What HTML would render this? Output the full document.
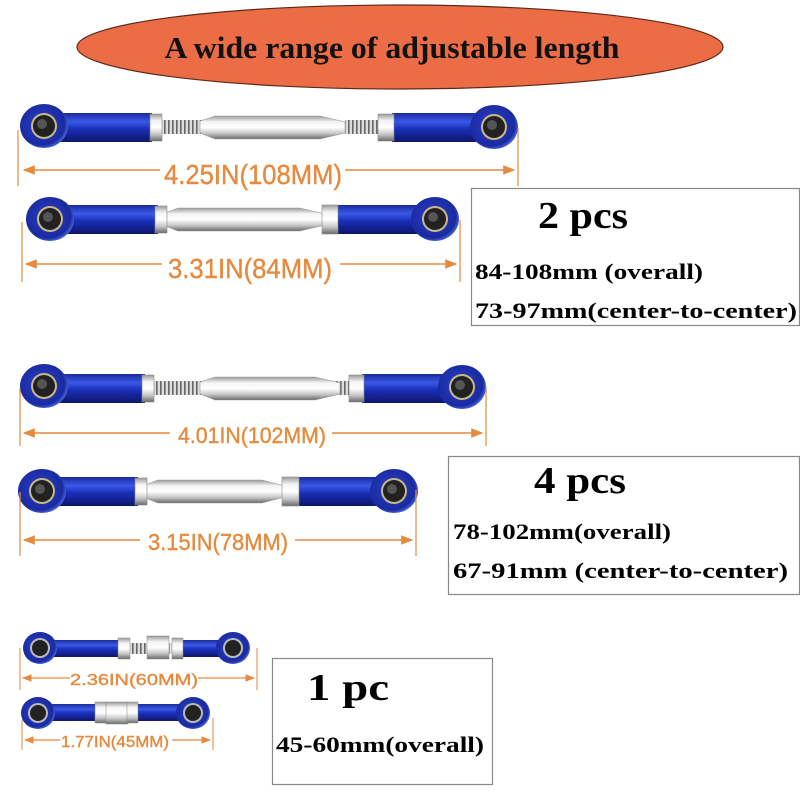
<!DOCTYPE html>
<html><head><meta charset="utf-8"><style>
html,body{margin:0;padding:0;background:#fff;width:800px;height:800px;overflow:hidden}
svg{display:block}
.dim{font-family:"Liberation Sans",sans-serif;fill:#E58A3E;stroke:#E58A3E;stroke-width:0.4}
.bx{font-family:"Liberation Serif",serif;font-weight:bold;fill:#000}
</style></head><body>
<svg width="800" height="800" viewBox="0 0 800 800" xmlns="http://www.w3.org/2000/svg">
<defs>
<linearGradient id="blue" x1="0" y1="0" x2="0" y2="1">
<stop offset="0" stop-color="#1a2a9a"/><stop offset="0.3" stop-color="#3a58e8"/><stop offset="0.55" stop-color="#1a2fb8"/><stop offset="1" stop-color="#0c166a"/></linearGradient>
<radialGradient id="eye" cx="0.45" cy="0.45" r="0.6"><stop offset="0" stop-color="#2a40c8"/><stop offset="0.8" stop-color="#1a2aa0"/><stop offset="1" stop-color="#5a80f0"/></radialGradient>
<linearGradient id="silver" x1="0" y1="0" x2="0" y2="1">
<stop offset="0" stop-color="#9a9a9a"/><stop offset="0.25" stop-color="#f4f4f4"/><stop offset="0.5" stop-color="#ffffff"/><stop offset="0.75" stop-color="#c8c8c8"/><stop offset="1" stop-color="#6a6a6a"/></linearGradient>
<pattern id="thr" width="4" height="10" patternUnits="userSpaceOnUse"><rect width="4" height="10" fill="#ddd"/><rect width="1.6" height="10" fill="#666"/></pattern>
<marker id="ar" viewBox="0 0 10 10" refX="9" refY="5" markerWidth="8" markerHeight="8" orient="auto-start-reverse"><path d="M0,1 L10,5 L0,9 z" fill="#E58A3E"/></marker>
<g id="eyeL"><ellipse cx="0" cy="0" rx="24" ry="22" fill="url(#eye)"/><circle r="13" fill="#c9b98a"/><circle r="11" fill="#222"/><circle r="5" cx="-2" cy="-2" fill="#555"/></g>
<g id="eyeS"><ellipse cx="0" cy="0" rx="17" ry="16" fill="url(#eye)"/><circle r="10" fill="#bbb"/><circle r="8" fill="#222"/></g>
</defs>

<ellipse cx="400" cy="47" rx="323" ry="42" fill="#EC6C45" stroke="#5a2a1a" stroke-width="1.2"/>
<text x="392" y="58" text-anchor="middle" font-family="Liberation Serif,serif" font-weight="bold" font-size="31" textLength="455" lengthAdjust="spacingAndGlyphs" fill="#111">A wide range of adjustable length</text>

<!-- rod 1 -->
<g>
<rect x="52" y="113" width="100" height="29" fill="url(#blue)"/>
<rect x="392" y="113" width="84" height="29" fill="url(#blue)"/>
<rect x="160" y="120" width="48" height="14" fill="url(#thr)"/>
<rect x="345" y="120" width="36" height="14" fill="url(#thr)"/>
<polygon points="200,121 215,116 320,116 345,122 345,133 320,139 215,139 200,133" fill="url(#silver)" stroke="#999" stroke-width="0.6"/>
<rect x="150" y="114" width="12" height="27" fill="url(#silver)" stroke="#888" stroke-width="0.6"/>
<rect x="378" y="114" width="16" height="27" fill="url(#silver)" stroke="#888" stroke-width="0.6"/>
<use href="#eyeL" x="44" y="126"/><use href="#eyeL" x="494" y="127"/>
</g>
<line x1="18" y1="130" x2="18" y2="186" stroke="#E58A3E" stroke-width="1.2"/>
<line x1="518" y1="128" x2="518" y2="186" stroke="#E58A3E" stroke-width="1.2"/>
<line x1="24" y1="170" x2="160" y2="170" stroke="#E58A3E" stroke-width="1.5" marker-start="url(#ar)"/>
<line x1="345" y1="170" x2="514" y2="170" stroke="#E58A3E" stroke-width="1.5" marker-end="url(#ar)"/>
<text class="dim" x="253" y="184" text-anchor="middle" font-size="28" textLength="178" lengthAdjust="spacingAndGlyphs">4.25IN(108MM)</text>

<!-- rod 2 -->
<g>
<rect x="58" y="205" width="100" height="29" fill="url(#blue)"/>
<rect x="335" y="205" width="88" height="29" fill="url(#blue)"/>
<polygon points="165,213 178,208 300,208 325,214 325,225 300,231 178,231 165,226" fill="url(#silver)" stroke="#999" stroke-width="0.6"/>
<rect x="155" y="206" width="12" height="27" fill="url(#silver)" stroke="#888" stroke-width="0.6"/>
<rect x="322" y="205" width="16" height="29" fill="url(#silver)" stroke="#888" stroke-width="0.6"/>
<use href="#eyeL" x="50" y="219"/><use href="#eyeL" x="435" y="219"/>
</g>
<line x1="22" y1="222" x2="22" y2="282" stroke="#E58A3E" stroke-width="1.2"/>
<line x1="460" y1="220" x2="460" y2="282" stroke="#E58A3E" stroke-width="1.2"/>
<line x1="26" y1="264" x2="162" y2="264" stroke="#E58A3E" stroke-width="1.5" marker-start="url(#ar)"/>
<line x1="340" y1="264" x2="456" y2="264" stroke="#E58A3E" stroke-width="1.5" marker-end="url(#ar)"/>
<text class="dim" x="250" y="278" text-anchor="middle" font-size="28" textLength="164" lengthAdjust="spacingAndGlyphs">3.31IN(84MM)</text>

<rect x="471.5" y="188.5" width="328" height="137" fill="#fff" stroke="#888" stroke-width="1.2"/>
<text class="bx" x="538" y="228" font-size="38" textLength="90" lengthAdjust="spacingAndGlyphs">2 pcs</text>
<text class="bx" x="475" y="279" font-size="22" textLength="228" lengthAdjust="spacingAndGlyphs">84-108mm (overall)</text>
<text class="bx" x="475" y="318" font-size="22" textLength="322" lengthAdjust="spacingAndGlyphs">73-97mm(center-to-center)</text>

<!-- rod 3 -->
<g>
<rect x="55" y="374" width="90" height="29" fill="url(#blue)"/>
<rect x="362" y="374" width="92" height="29" fill="url(#blue)"/>
<rect x="152" y="381" width="56" height="14" fill="url(#thr)"/>
<rect x="335" y="381" width="20" height="14" fill="url(#thr)"/>
<polygon points="200,382 215,377 315,377 340,383 340,394 315,400 215,400 200,394" fill="url(#silver)" stroke="#999" stroke-width="0.6"/>
<rect x="142" y="375" width="12" height="27" fill="url(#silver)" stroke="#888" stroke-width="0.6"/>
<rect x="349" y="375" width="15" height="27" fill="url(#silver)" stroke="#888" stroke-width="0.6"/>
<use href="#eyeL" x="44" y="386"/><use href="#eyeL" x="462" y="387"/>
</g>
<line x1="20" y1="388" x2="20" y2="446" stroke="#E58A3E" stroke-width="1.2"/>
<line x1="486" y1="386" x2="486" y2="446" stroke="#E58A3E" stroke-width="1.2"/>
<line x1="24" y1="433" x2="170" y2="433" stroke="#E58A3E" stroke-width="1.5" marker-start="url(#ar)"/>
<line x1="332" y1="433" x2="482" y2="433" stroke="#E58A3E" stroke-width="1.5" marker-end="url(#ar)"/>
<text class="dim" x="252" y="443" text-anchor="middle" font-size="22" textLength="148" lengthAdjust="spacingAndGlyphs">4.01IN(102MM)</text>

<!-- rod 4 -->
<g>
<rect x="52" y="477" width="86" height="29" fill="url(#blue)"/>
<rect x="296" y="477" width="92" height="29" fill="url(#blue)"/>
<polygon points="145,485 158,480 262,480 285,486 285,497 262,503 158,503 145,498" fill="url(#silver)" stroke="#999" stroke-width="0.6"/>
<rect x="135" y="478" width="12" height="27" fill="url(#silver)" stroke="#888" stroke-width="0.6"/>
<rect x="282" y="477" width="17" height="29" fill="url(#silver)" stroke="#888" stroke-width="0.6"/>
<use href="#eyeL" x="42" y="491"/><use href="#eyeL" x="394" y="491"/>
</g>
<line x1="20" y1="492" x2="20" y2="556" stroke="#E58A3E" stroke-width="1.2"/>
<line x1="416" y1="490" x2="416" y2="556" stroke="#E58A3E" stroke-width="1.2"/>
<line x1="24" y1="540" x2="140" y2="540" stroke="#E58A3E" stroke-width="1.5" marker-start="url(#ar)"/>
<line x1="295" y1="540" x2="412" y2="540" stroke="#E58A3E" stroke-width="1.5" marker-end="url(#ar)"/>
<text class="dim" x="218" y="550" text-anchor="middle" font-size="23" textLength="140" lengthAdjust="spacingAndGlyphs">3.15IN(78MM)</text>

<rect x="448.5" y="456.5" width="351" height="138" fill="#fff" stroke="#888" stroke-width="1.2"/>
<text class="bx" x="534" y="493" font-size="38" textLength="92" lengthAdjust="spacingAndGlyphs">4 pcs</text>
<text class="bx" x="453" y="539" font-size="22" textLength="218" lengthAdjust="spacingAndGlyphs">78-102mm(overall)</text>
<text class="bx" x="453" y="578" font-size="22" textLength="335" lengthAdjust="spacingAndGlyphs">67-91mm (center-to-center)</text>

<!-- rod 5 small -->
<g>
<rect x="45" y="640" width="78" height="17" fill="url(#blue)"/>
<rect x="178" y="640" width="50" height="17" fill="url(#blue)"/>
<rect x="130" y="643" width="50" height="11" fill="url(#thr)"/>
<rect x="118" y="638" width="12" height="21" fill="url(#silver)" stroke="#888" stroke-width="0.5"/>
<rect x="147" y="636" width="22" height="23" fill="url(#silver)" stroke="#888" stroke-width="0.5"/>
<rect x="172" y="638" width="11" height="21" fill="url(#silver)" stroke="#888" stroke-width="0.5"/>
<use href="#eyeS" x="40" y="648"/><use href="#eyeS" x="233" y="648"/>
</g>
<line x1="20" y1="648" x2="20" y2="690" stroke="#E58A3E" stroke-width="1"/>
<line x1="257" y1="648" x2="257" y2="690" stroke="#E58A3E" stroke-width="1"/>
<line x1="23" y1="678" x2="70" y2="678" stroke="#E58A3E" stroke-width="1.2" marker-start="url(#ar)"/>
<line x1="198" y1="678" x2="254" y2="678" stroke="#E58A3E" stroke-width="1.2" marker-end="url(#ar)"/>
<text class="dim" x="134" y="685" text-anchor="middle" font-size="16" textLength="128" lengthAdjust="spacingAndGlyphs">2.36IN(60MM)</text>

<!-- rod 6 small -->
<g>
<rect x="42" y="704" width="60" height="17" fill="url(#blue)"/>
<rect x="132" y="704" width="55" height="17" fill="url(#blue)"/>
<rect x="95" y="702" width="12" height="21" fill="url(#silver)" stroke="#888" stroke-width="0.5"/>
<rect x="106" y="702" width="22" height="22" fill="url(#silver)" stroke="#888" stroke-width="0.5"/>
<rect x="127" y="702" width="11" height="21" fill="url(#silver)" stroke="#888" stroke-width="0.5"/>
<use href="#eyeS" x="38" y="713"/><use href="#eyeS" x="193" y="713"/>
</g>
<line x1="22" y1="720" x2="22" y2="750" stroke="#E58A3E" stroke-width="1"/>
<line x1="213" y1="718" x2="213" y2="750" stroke="#E58A3E" stroke-width="1"/>
<line x1="25" y1="740" x2="60" y2="740" stroke="#E58A3E" stroke-width="1.2" marker-start="url(#ar)"/>
<line x1="172" y1="740" x2="210" y2="740" stroke="#E58A3E" stroke-width="1.2" marker-end="url(#ar)"/>
<text class="dim" x="115" y="747" text-anchor="middle" font-size="16" textLength="108" lengthAdjust="spacingAndGlyphs">1.77IN(45MM)</text>

<rect x="272.5" y="658.5" width="220" height="126" fill="#fff" stroke="#888" stroke-width="1.2"/>
<text class="bx" x="307" y="700" font-size="38" textLength="82" lengthAdjust="spacingAndGlyphs">1 pc</text>
<text class="bx" x="276" y="752" font-size="22" textLength="208" lengthAdjust="spacingAndGlyphs">45-60mm(overall)</text>
</svg>
</body></html>
